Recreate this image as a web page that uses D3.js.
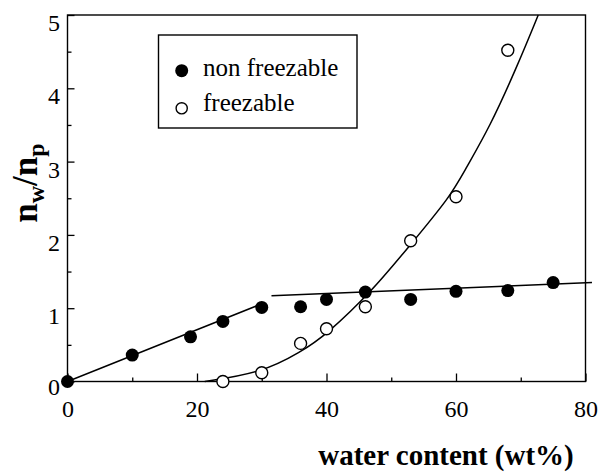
<!DOCTYPE html>
<html>
<head>
<meta charset="utf-8">
<script src="https://cdn.jsdelivr.net/npm/d3@7"></script>
<style>
  body { margin: 0; background: #fff; }
</style>
</head>
<body>
<div id="chart"></div>
<script>

// Data
var nonFreezableX = [0, 10, 19, 24, 30, 36, 40, 46, 53, 60, 68, 75];
var nonFreezableY = [0, 0.36, 0.61, 0.82, 1.01, 1.02, 1.12, 1.22, 1.12, 1.23, 1.24, 1.35];

var freezableX = [24, 30, 36, 40, 46, 53, 60, 68];
var freezableY = [0, 0.12, 0.52, 0.72, 1.02, 1.92, 2.52, 4.52];

// guide lines drawn in the figure
var lowLineX = [0, 30];
var lowLineY = [0, 1.06];
var highLineX = [31.5, 81];
var highLineY = [1.17, 1.35];
var curveX = [21.2, 30, 36, 40, 47, 52.9, 59.1, 61.4, 65.2, 69.4, 72.7];
var curveY = [0, 0.12, 0.4, 0.64, 1.23, 1.86, 2.52, 2.89, 3.47, 4.29, 5.0];

var xMajor = [0, 20, 40, 60, 80];
var xMinor = [10, 30, 50, 70];
var yMajor = [0, 1, 2, 3, 4, 5];
var yMinor = [0.5, 1.5, 2.5, 3.5, 4.5];

var legendLabels = ["non freezable", "freezable"];

var serif = "Liberation Serif";

// Setup Chart/SVG Params
var svgWidth = 601;
var svgHeight = 474;

var svg = d3.select("#chart")
  .append("svg")
  .attr("width", svgWidth)
  .attr("height", svgHeight);

var xScale = d3.scaleLinear().domain([0, 80]).range([67.5, 585.5]);
var yScale = d3.scaleLinear().domain([0, 5]).range([381.5, 15]);

var zip = (xs, ys) => xs.map((x, i) => [x, ys[i]]);

// frame
svg.append("rect")
  .attr("x", xScale(0))
  .attr("y", yScale(5))
  .attr("width", xScale(80) - xScale(0))
  .attr("height", yScale(0) - yScale(5))
  .attr("fill", "none")
  .attr("stroke", "#000")
  .attr("stroke-width", 1.4);

// x axis, ticks pointing inward
var xAxisG = svg.append("g")
  .attr("transform", `translate(0, ${yScale(0)})`)
  .call(d3.axisBottom(xScale).tickValues(xMajor).tickSize(-8).tickPadding(18.5).tickFormat(d3.format("d")));

svg.append("g")
  .attr("transform", `translate(0, ${yScale(0)})`)
  .call(d3.axisBottom(xScale).tickValues(xMinor).tickSize(-4).tickFormat(""));

// y axis
var yAxisG = svg.append("g")
  .attr("transform", `translate(${xScale(0)}, 0)`)
  .call(d3.axisLeft(yScale).tickValues(yMajor).tickSize(-7).tickPadding(7.5).tickFormat(d3.format("d")));

svg.append("g")
  .attr("transform", `translate(${xScale(0)}, 0)`)
  .call(d3.axisLeft(yScale).tickValues(yMinor).tickSize(-4).tickFormat(""));

svg.selectAll(".domain").remove();
svg.selectAll(".tick line").attr("stroke", "#000").attr("stroke-width", 1.3);
svg.selectAll(".tick text")
  .attr("font-family", serif)
  .attr("font-size", 24)
  .attr("fill", "#000");
yAxisG.selectAll(".tick text").attr("y", d => d === 0 ? 5 : 8);

// guide lines
var line = d3.line()
  .x(d => xScale(d[0]))
  .y(d => yScale(d[1]));

svg.append("path")
  .datum(zip(lowLineX, lowLineY))
  .attr("d", line)
  .attr("fill", "none")
  .attr("stroke", "#000")
  .attr("stroke-width", 1.5);

svg.append("path")
  .datum(zip(highLineX, highLineY))
  .attr("d", line)
  .attr("fill", "none")
  .attr("stroke", "#000")
  .attr("stroke-width", 1.5);

svg.append("path")
  .datum(zip(curveX, curveY))
  .attr("d", line.curve(d3.curveBasis))
  .attr("fill", "none")
  .attr("stroke", "#000")
  .attr("stroke-width", 1.5);

// points
svg.append("g").selectAll("circle")
  .data(zip(freezableX, freezableY))
  .enter()
  .append("circle")
  .attr("cx", d => xScale(d[0]))
  .attr("cy", d => yScale(d[1]))
  .attr("r", 6)
  .attr("fill", "#fff")
  .attr("stroke", "#000")
  .attr("stroke-width", 1.4);

svg.append("g").selectAll("circle")
  .data(zip(nonFreezableX, nonFreezableY))
  .enter()
  .append("circle")
  .attr("cx", d => xScale(d[0]))
  .attr("cy", d => yScale(d[1]))
  .attr("r", 6.5)
  .attr("fill", "#000");

// legend
var legend = svg.append("g");
legend.append("rect")
  .attr("x", 158.5)
  .attr("y", 35)
  .attr("width", 198.5)
  .attr("height", 93)
  .attr("fill", "none")
  .attr("stroke", "#000")
  .attr("stroke-width", 1.4);

legend.append("circle")
  .attr("cx", 181.7).attr("cy", 70.7).attr("r", 6.5)
  .attr("fill", "#000");
legend.append("circle")
  .attr("cx", 181.7).attr("cy", 108.3).attr("r", 5.6)
  .attr("fill", "#fff").attr("stroke", "#000").attr("stroke-width", 1.4);

legend.selectAll("text")
  .data(legendLabels)
  .enter()
  .append("text")
  .attr("x", 203)
  .attr("y", (d, i) => i === 0 ? 75.5 : 111)
  .attr("font-family", serif)
  .attr("font-size", 25)
  .text(d => d);

// axis titles
svg.append("text")
  .attr("x", 446)
  .attr("y", 465)
  .attr("text-anchor", "middle")
  .attr("font-family", serif)
  .attr("font-size", 29)
  .attr("font-weight", "bold")
  .text("water content (wt%)");

var yTitle = svg.append("text")
  .attr("transform", "translate(37, 183) rotate(-90)")
  .attr("text-anchor", "middle")
  .attr("font-family", serif)
  .attr("font-size", 35)
  .attr("font-weight", "bold");
yTitle.append("tspan").text("n");
yTitle.append("tspan").attr("font-size", 24).attr("dy", 7).text("w");
yTitle.append("tspan").attr("dy", -7).text("/n");
yTitle.append("tspan").attr("font-size", 24).attr("dy", 7).text("p");

</script>
</body>
</html>
